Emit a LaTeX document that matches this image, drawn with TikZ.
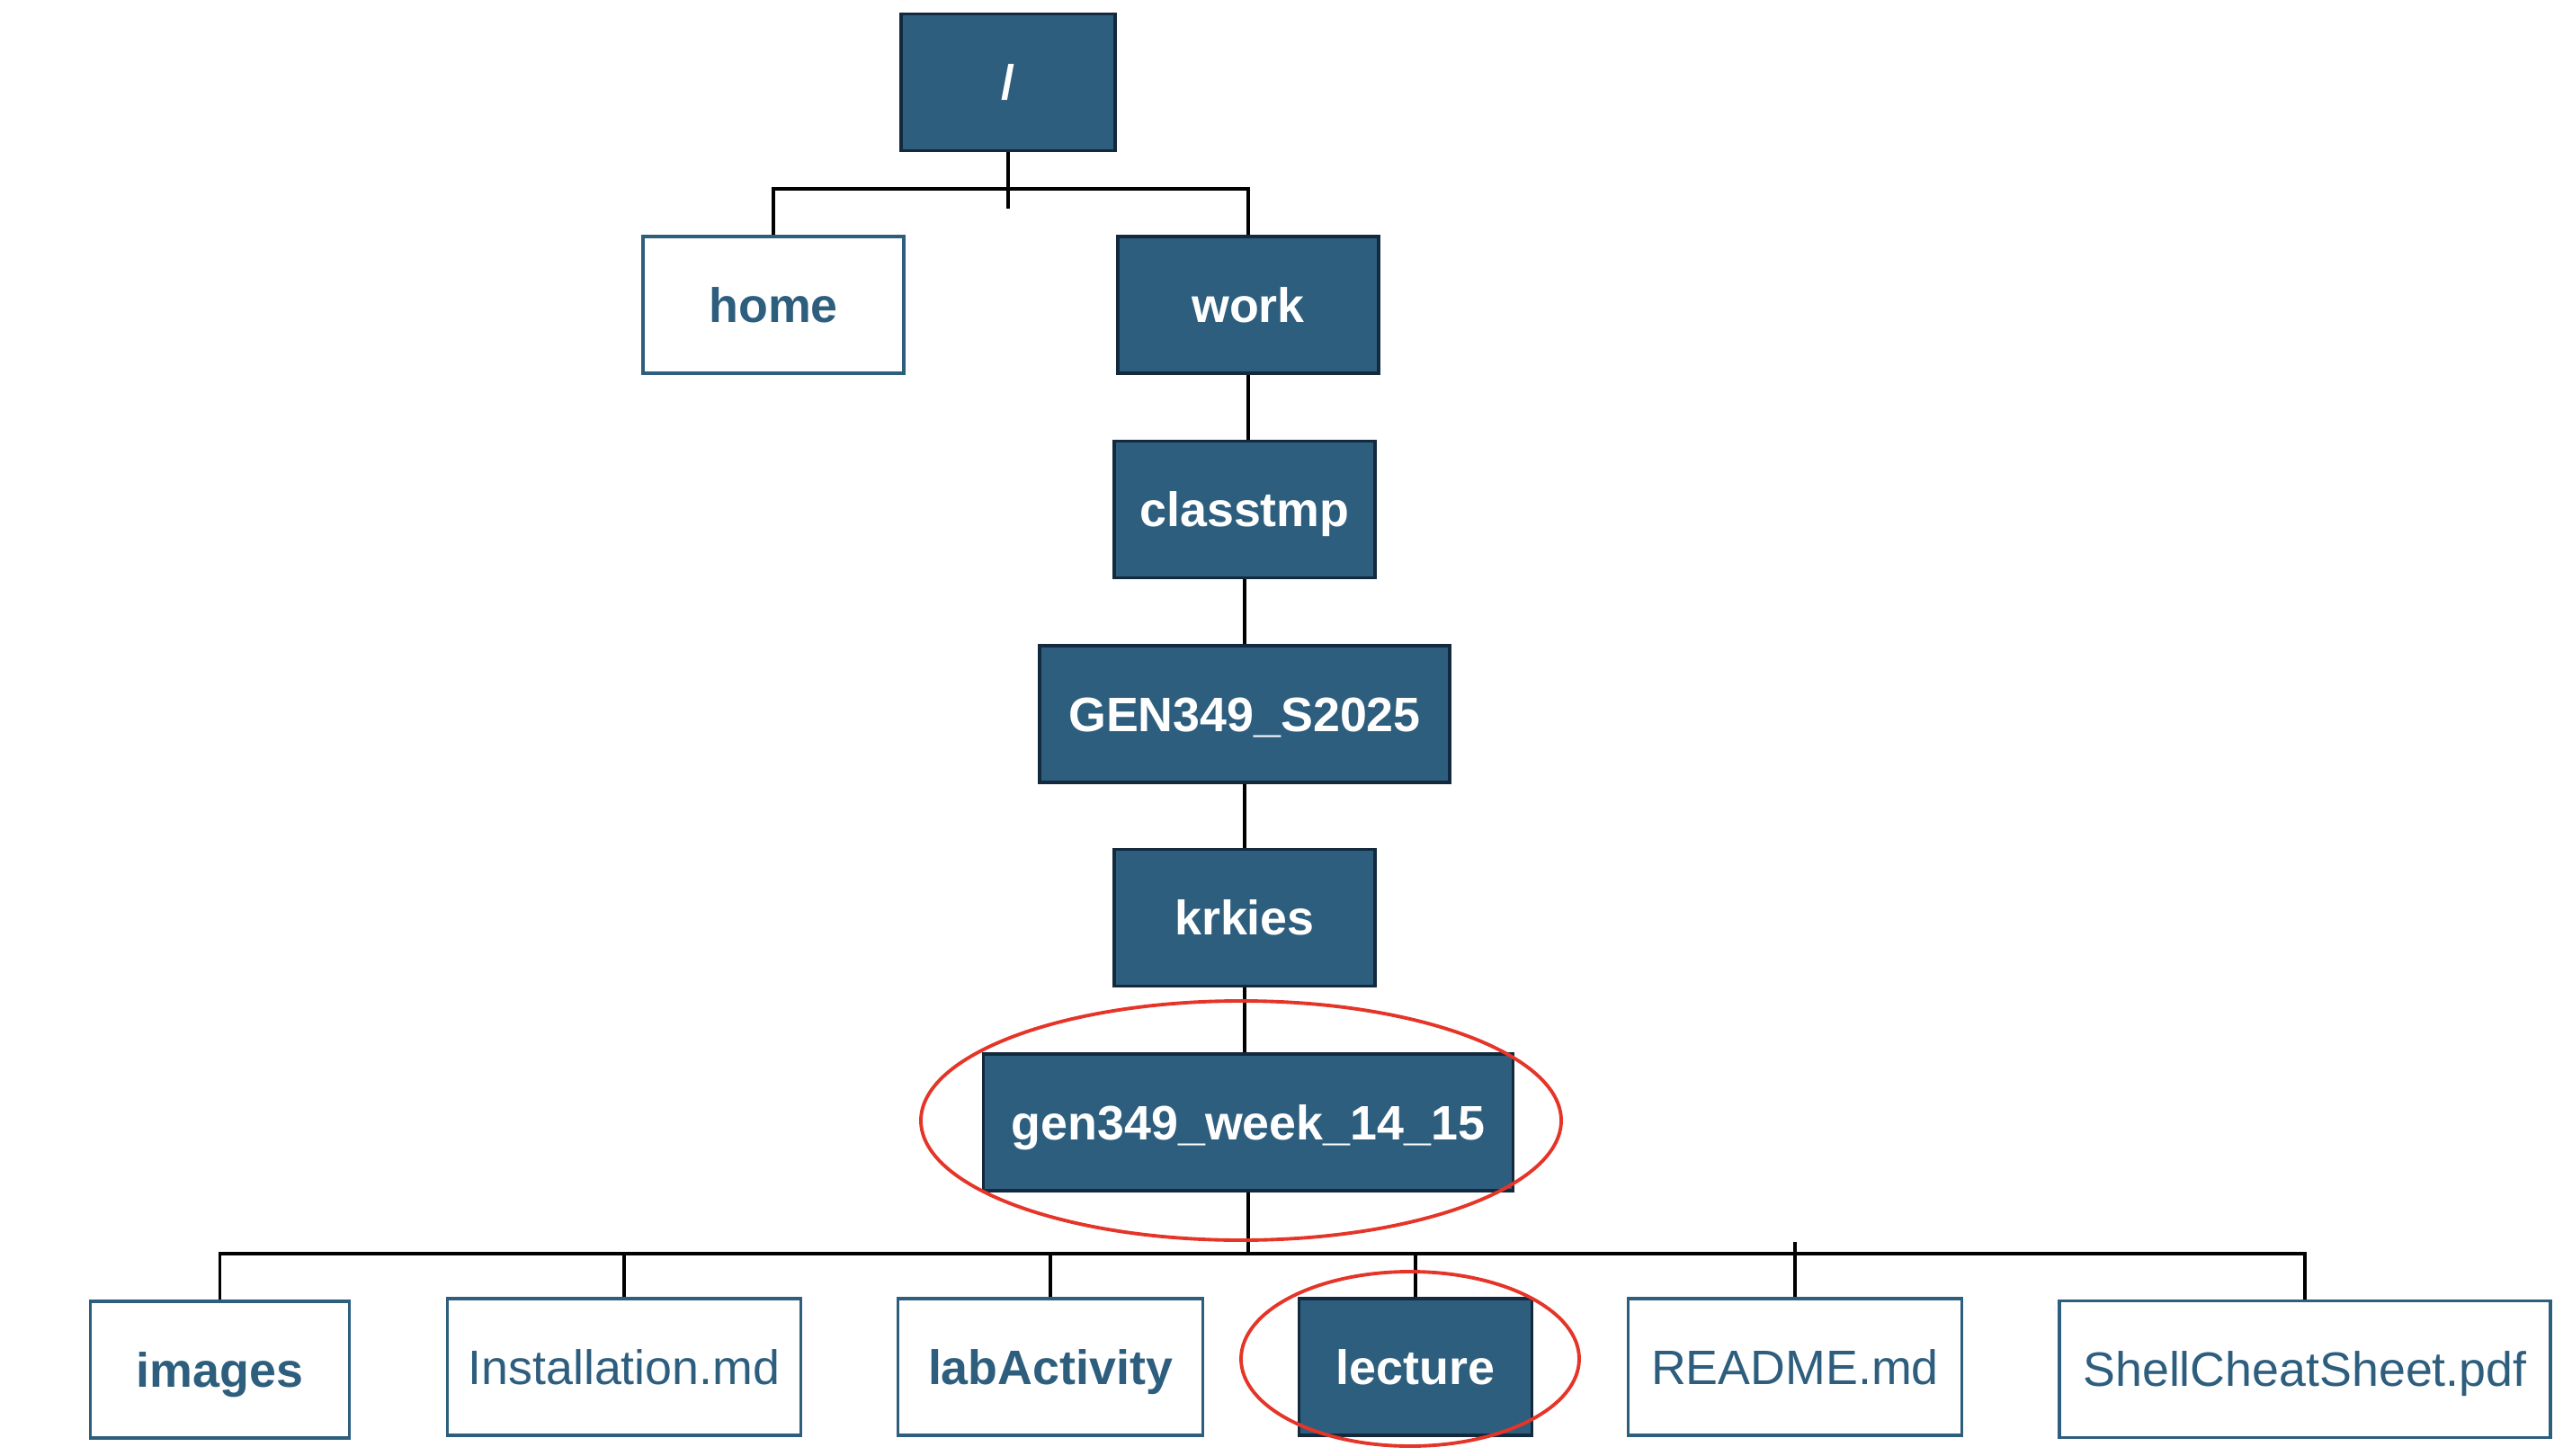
\documentclass[tikz,border=0pt]{standalone}
\usepackage{fontspec}
\setmainfont{Liberation Sans}

\definecolor{dirblue}{HTML}{2E5E7E}
\definecolor{dirline}{HTML}{132A3E}
\definecolor{markred}{HTML}{E53528}

\tikzset{
    dirbox/.style={draw=dirline, fill=dirblue, line width=1pt, text=white,
        font=\fontsize{15.3}{18}\selectfont\bfseries, inner sep=0pt,
        text height=10.95pt, text depth=0pt, minimum height=1.52cm},
    folderbox/.style={draw=dirblue, fill=white, line width=1pt, text=dirblue,
        font=\fontsize{15.3}{18}\selectfont\bfseries, inner sep=0pt,
        text height=10.95pt, text depth=0pt, minimum height=1.52cm},
    filebox/.style={folderbox, font=\fontsize{15.3}{18}\selectfont},
    treeline/.style={line width=0.9pt, black},
    redmark/.style={draw=markred, line width=1.1pt}
}

\begin{document}
\begin{tikzpicture}
            \useasboundingbox (0,0) rectangle (28.6,16.18);

            % top levels
            \node[dirbox, minimum width=2.38cm] (root) at (11.21,15.265) {/};
            \node[folderbox, minimum width=2.9cm] (home) at (8.6,12.79) {home};
            \node[dirbox, minimum width=2.9cm] (work) at (13.88,12.79) {work};

            % path down to the week folder
            \node[dirbox, minimum width=2.9cm] (classtmp) at (13.84,10.515) {classtmp};
            \node[dirbox, minimum width=4.56cm] (gen) at (13.84,8.24) {GEN349\_S2025};
            \node[dirbox, minimum width=2.9cm] (krkies) at (13.84,5.975) {krkies};
            \node[dirbox, minimum width=5.89cm] (week) at (13.88,3.70) {gen349\_week\_14\_15};

            % contents of the week folder
            \node[folderbox, minimum width=2.88cm] (images) at (2.445,0.95) {images};
            \node[filebox, minimum width=3.93cm] (install) at (6.94,0.98) {Installation.md};
            \node[folderbox, minimum width=3.39cm] (lab) at (11.68,0.98) {labActivity};
            \node[dirbox, minimum width=2.59cm] (lecture) at (15.74,0.98) {lecture};
            \node[filebox, minimum width=3.71cm] (readme) at (19.96,0.98) {README.md};
            \node[filebox, minimum width=5.46cm] (shell) at (25.63,0.955) {ShellCheatSheet.pdf};

            % lines
            \coordinate (topbus) at (0,14.08);
            \coordinate (roottick) at (11.21,13.86);
            \coordinate (lowbus) at (0,2.24);
            \coordinate (readtick) at (19.96,2.37);

            \draw[treeline] (root) -- (roottick);
            \draw[treeline] (home.north) -- (home.north |- topbus) -- (work.north |- topbus) -- (work.north);
            \draw[treeline] (work.south) -- (work.south |- classtmp.north);
            \draw[treeline] (classtmp) -- (gen);
            \draw[treeline] (gen) -- (krkies);
            \draw[treeline] (krkies.south) -- (krkies.south |- week.north);
            \draw[treeline] (week.south) -- (week.south |- lowbus);
            \draw[treeline] (images.north) -- (images.north |- lowbus) -- (shell.north |- lowbus) -- (shell.north);
            \draw[treeline] (install.north) -- (install.north |- lowbus);
            \draw[treeline] (lab.north) -- (lab.north |- lowbus);
            \draw[treeline] (lecture.north) -- (lecture.north |- lowbus);
            \draw[treeline] (readme) -- (readtick);

            % red marks
            \draw[redmark] (13.80,3.72) ellipse (3.56 and 1.33);
            \draw[redmark] (15.68,1.07) ellipse (1.88 and 0.97);
\end{tikzpicture}
\end{document}
